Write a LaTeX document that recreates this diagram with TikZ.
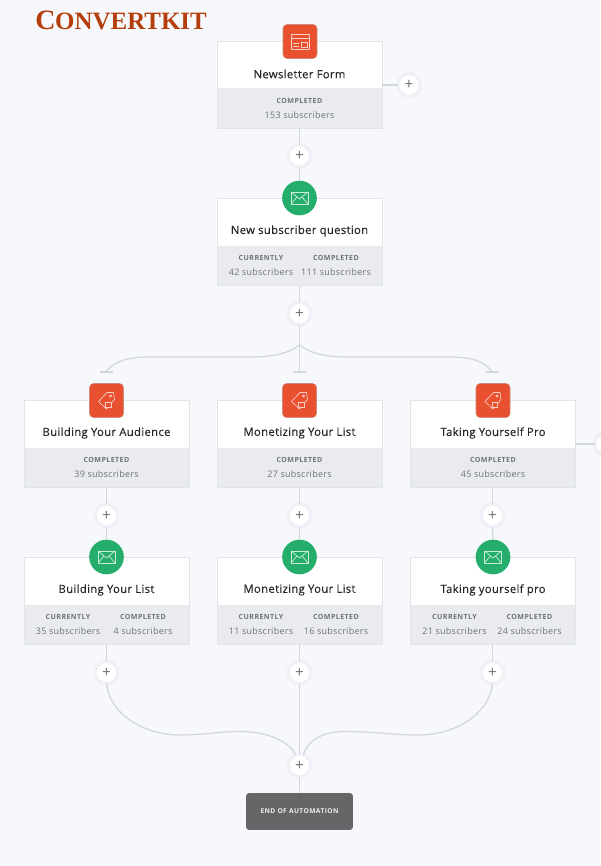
\documentclass[tikz,border=0pt]{standalone}
\usepackage{fontspec}
\setmainfont{Open Sans}
\newfontfamily\logofont{Liberation Serif}
\usetikzlibrary{calc}
\definecolor{pagebg}{HTML}{F6F8FC}
\definecolor{grayband}{HTML}{E9EBEF}
\definecolor{boxedge}{HTML}{E1E4E9}
\definecolor{wire}{HTML}{D3D6DB}
\definecolor{halo}{HTML}{EFF1F6}
\definecolor{titleink}{HTML}{24282C}
\definecolor{statink}{HTML}{6E727A}
\definecolor{redbadge}{HTML}{E8502F}
\definecolor{greenbadge}{HTML}{25AE6B}
\definecolor{endfill}{HTML}{666668}
\definecolor{logoink}{HTML}{B53F0C}
\tikzset{
  x=0.75pt,y=-0.75pt,
  card/.style={draw=boxedge,line width=0.7pt,fill=white,minimum width=123.75pt,minimum height=65.25pt,inner sep=0pt,outer sep=0pt},
  band/.style={fill=grayband,minimum width=123.2pt,minimum height=30pt,inner sep=0pt,outer sep=0pt},
  cardtitle/.style={font=\fontsize{8.45pt}{10pt}\selectfont\addfontfeatures{LetterSpace=3,FakeBold=0.25},text=titleink,inner sep=0pt},
  stathead/.style={font=\fontsize{5.3pt}{7pt}\selectfont\bfseries\addfontfeatures{LetterSpace=6},text=statink,inner sep=0pt},
  statval/.style={font=\fontsize{6.75pt}{8pt}\selectfont\addfontfeatures{LetterSpace=3},text=statink,inner sep=0pt},
  plusnode/.style={circle,draw=halo,line width=2.4pt,fill=white,minimum size=17pt,inner sep=0pt,outer sep=0pt,font=\fontsize{11.5pt}{11.5pt}\selectfont,text=statink},
  redsq/.style={rectangle,rounded corners=3pt,fill=redbadge,draw=redbadge!75!black!60!white,line width=0.4pt,minimum size=25.5pt,inner sep=0pt,outer sep=0pt},
  greencirc/.style={circle,fill=greenbadge,minimum size=26pt,inner sep=0pt,outer sep=0pt},
  wireline/.style={draw=wire,line width=0.95pt},
  iconline/.style={draw=white!72!redbadge,line width=0.5pt,line join=round},
  mailline/.style={draw=white!75!greenbadge,line width=0.55pt,line join=round},
}
% name, centre x, top y, title
\newcommand{\wfcard}[4]{%
  \node[card] (#1) at (#2,#3+43.5) {};
  \node[band] (#1band) at (#2,#3+67.5) {};
  \draw[boxedge,line width=0.7pt] (#1.north west) rectangle (#1.south east);
  \node[cardtitle] (#1title) at (#2,#3+33) {#4};
}
\newcommand{\onestat}[4]{%
  \node[stathead] (#1head) at (#2,#3+59.5) {COMPLETED};
  \node[statval] (#1val) at (#2,#3+74.5) {#4 subscribers};
}
\newcommand{\twostat}[4]{%
  \node[stathead] (#1heada) at (#2-38.5,#3+59.5) {CURRENTLY};
  \node[statval] (#1vala) at (#2-38.5,#3+74.5) {#4 subscribers};
}
\newcommand{\twostatb}[4]{%
  \node[stathead] (#1headb) at (#2+36.5,#3+59.5) {COMPLETED};
  \node[statval] (#1valb) at (#2+36.5,#3+74.5) {#4 subscribers};
}
\newcommand{\mailbadge}[3]{%
  \node[greencirc] (#1) at (#2,#3) {};
  \draw[mailline] (#2-8.5,#3-6) rectangle (#2+8.5,#3+6);
  \draw[mailline] (#2-8.5,#3-6) -- (#2,#3+1) -- (#2+8.5,#3-6);
  \draw[mailline] (#2-8.5,#3+6) -- (#2-2.5,#3-1) (#2+8.5,#3+6) -- (#2+2.5,#3-1);
}
\newcommand{\tagbadge}[3]{%
  \node[redsq] (#1) at (#2,#3) {};
  \draw[iconline] (#2-8,#3+1) -- (#2+0.5,#3-8) -- (#2+7,#3-8) -- (#2+8,#3-1) -- (#2-0,#3+8.5) -- cycle;
  \draw[iconline] (#2+4,#3-4.5) circle (1.2);
  \draw[iconline,fill=redbadge] (#2-1,#3+1.5) rectangle (#2+4.5,#3+7);
}
\begin{document}
\begin{tikzpicture}
\useasboundingbox (0,0) rectangle (600,866);
\fill[pagebg] (0,0) rectangle (600,866);

% logo
\node[anchor=west,inner sep=0pt,text=logoink,font=\logofont\bfseries\fontsize{21pt}{22pt}\selectfont] (logo) at (35,20) {C\kern-0.2pt{\fontsize{18.7pt}{22pt}\selectfont ONVERTKIT}};

% cards
\wfcard{form}{299.5}{41}{Newsletter Form}
\onestat{form}{299.5}{41}{153}
\wfcard{question}{299.5}{198}{New subscriber question}
\twostat{question}{299.5}{198}{42}
\twostatb{question}{299.5}{198}{111}

\wfcard{audience}{106.5}{400}{Building Your Audience}
\onestat{audience}{106.5}{400}{39}
\wfcard{monet}{299.5}{400}{Monetizing Your List}
\onestat{monet}{299.5}{400}{27}
\wfcard{pro}{493}{400}{Taking Yourself Pro}
\onestat{pro}{493}{400}{45}

\wfcard{list}{106.5}{557}{Building Your List}
\twostat{list}{106.5}{557}{35}
\twostatb{list}{106.5}{557}{4}
\wfcard{monetb}{299.5}{557}{Monetizing Your List}
\twostat{monetb}{299.5}{557}{11}
\twostatb{monetb}{299.5}{557}{16}
\wfcard{prob}{493}{557}{Taking yourself pro}
\twostat{prob}{493}{557}{21}
\twostatb{prob}{493}{557}{24}

% badges
\node[redsq] (formbadge) at (300,41.5) {};
\draw[iconline] (291,34) rectangle (309,49);
\draw[iconline] (291,38) -- (309,38);
\draw[iconline] (293,43) -- (299,43) (293,46) -- (299,46);
\draw[iconline] (301,42) rectangle (307,47);
\mailbadge{questionbadge}{299.5}{198}
\tagbadge{audiencebadge}{106.5}{400.5}
\tagbadge{monetbadge}{299.5}{400.5}
\tagbadge{probadge}{493}{400.5}
\mailbadge{listbadge}{106.5}{557}
\mailbadge{monetbbadge}{299.5}{557}
\mailbadge{probbadge}{493}{557}

% plus nodes
\node[plusnode] (pside) at (409,85) {+};
\node[plusnode] (pone) at (299.5,156) {+};
\node[plusnode] (ptwo) at (299.5,313.5) {+};
\node[plusnode] (pa) at (106.5,515.5) {+};
\node[plusnode] (pb) at (299.5,515.5) {+};
\node[plusnode] (pc) at (492.5,515.5) {+};
\node[plusnode] (pd) at (106.5,672.5) {+};
\node[plusnode] (pe) at (299.5,672.5) {+};
\node[plusnode] (pf) at (492.5,672.5) {+};
\node[plusnode] (pg) at (299.5,765.5) {+};
\node[plusnode] (pedge) at (606,444) {};

% end node
\node[rectangle,rounded corners=2pt,fill=endfill,minimum width=80pt,minimum height=27.5pt,inner sep=0pt,outer sep=0pt,text=white!88!endfill,font=\fontsize{5pt}{6pt}\selectfont\bfseries\addfontfeatures{LetterSpace=6}] (endnode) at (299.5,811.5) {END OF AUTOMATION};

% branch points
\coordinate (fork) at (299.5,345);
\coordinate (tickl) at (106,372);
\coordinate (tickm) at (299.5,372);
\coordinate (tickr) at (492,372);

% connectors
\draw[wireline] (form.south -| pone) -- (pone);
\draw[wireline] (pone) -- (questionbadge);
\draw[wireline] (question.south -| ptwo) -- (ptwo);
\draw[wireline] (ptwo) -- (fork);
\draw[wireline] (fork) -- (tickm);
\draw[wireline] (fork) .. controls (289,353) and (275,357) .. (250,357) -- (150,357) .. controls (128,357) and (114,361) .. (tickl);
\draw[wireline] (fork) .. controls (310,353) and (324,357) .. (349,357) -- (449,357) .. controls (471,357) and (485,361) .. (tickr);
\draw[wireline] (tickl) ++(-6.5,0) -- ++(13,0);
\draw[wireline] (tickm) ++(-6.5,0) -- ++(13,0);
\draw[wireline] (tickr) ++(-6.5,0) -- ++(13,0);
\draw[wireline] (formband.east |- pside) -- (pside);
\draw[wireline] (proband.east |- pedge) -- (pedge);
\draw[wireline] (audience.south -| pa) -- (pa);
\draw[wireline] (monet.south -| pb) -- (pb);
\draw[wireline] (pro.south -| pc) -- (pc);
\draw[wireline] (pa) -- (listbadge);
\draw[wireline] (pb) -- (monetbbadge);
\draw[wireline] (pc) -- (probbadge);
\draw[wireline] (list.south -| pd) -- (pd);
\draw[wireline] (monetb.south -| pe) -- (pe);
\draw[wireline] (prob.south -| pf) -- (pf);
\draw[wireline] (pe) -- (pg);
\draw[wireline] (pd.south) .. controls (110,715) and (145,735) .. (180,735) .. controls (205,735) and (218,731.5) .. (240,731.5) .. controls (268,731.5) and (290,742) .. (pg.110);
\draw[wireline] (pf.south) .. controls (489,715) and (454,735) .. (419,735) .. controls (394,735) and (370,731.5) .. (345,731.5) .. controls (320,731.5) and (307,742) .. (pg.70);
\draw[wireline,line width=1.4pt] (pg) -- (endnode);
\end{tikzpicture}
\end{document}
